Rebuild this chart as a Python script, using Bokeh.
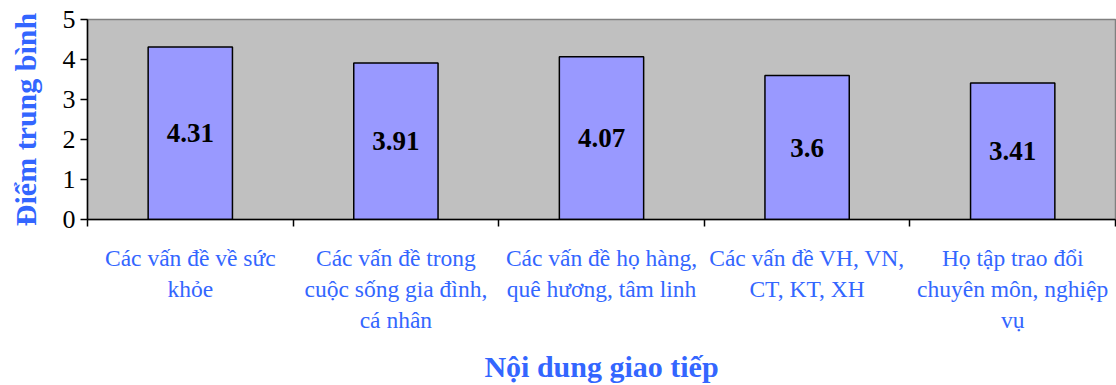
from bokeh.plotting import figure
from bokeh.models import LinearAxis, FixedTicker, Range1d, ColumnDataSource, LabelSet
from bokeh.embed import file_html
from bokeh.resources import INLINE

# Topics of communication and their mean scores
categories = [
    "Các vấn đề về sức\nkhỏe",
    "Các vấn đề trong\ncuộc sống gia đình,\ncá nhân",
    "Các vấn đề họ hàng,\nquê hương, tâm linh",
    "Các vấn đề VH, VN,\nCT, KT, XH",
    "Họ tập trao đổi\nchuyên môn, nghiệp\nvụ",
]
scores = [4.31, 3.91, 4.07, 3.6, 3.41]
score_labels = ["4.31", "3.91", "4.07", "3.6", "3.41"]
y_ticks = [0, 1, 2, 3, 4, 5]

SERIF = "Liberation Serif"
BLUE = "#3366FF"

n = len(categories)
centers = [i + 0.5 for i in range(n)]

src = ColumnDataSource(dict(
    x=centers,
    top=scores,
    mid=[s / 2 for s in scores],
    lab=score_labels,
))

p = figure(
    width=1116, height=385,
    output_backend="svg", toolbar_location=None,
    x_range=Range1d(0, n), y_range=Range1d(0, 5),
    x_axis_location=None, y_axis_location=None,
    min_border_left=87, min_border_right=1, min_border_top=19, min_border_bottom=166,
)
p.background_fill_color = "#C0C0C0"
p.border_fill_color = "white"
p.outline_line_color = "#808080"
p.outline_line_width = 1.5
p.xgrid.visible = False
p.ygrid.visible = False

p.vbar(x="x", top="top", bottom=0, width=0.41, source=src,
       fill_color="#9999FF", line_color="black", line_width=1.5)

p.add_layout(LabelSet(x="x", y="mid", text="lab", source=src,
                      text_align="center", text_baseline="middle",
                      text_font=SERIF, text_font_style="bold",
                      text_font_size="27px", text_color="black"))

# Y axis
yax = LinearAxis(ticker=FixedTicker(ticks=y_ticks))
yax.axis_label = "Điểm trung bình"
yax.axis_label_text_font = SERIF
yax.axis_label_text_font_style = "bold"
yax.axis_label_text_font_size = "30px"
yax.axis_label_text_color = BLUE
yax.axis_label_standoff = 18
yax.major_label_text_font = SERIF
yax.major_label_text_font_size = "26px"
yax.major_label_text_color = "black"
yax.major_label_standoff = 5
yax.major_tick_out = 7
yax.major_tick_in = 0
yax.minor_tick_out = 0
yax.minor_tick_in = 0
yax.axis_line_color = "black"
yax.axis_line_width = 1.5
yax.major_tick_line_width = 1.5
p.add_layout(yax, "left")

# Bottom axis: tick marks at category boundaries
xax = LinearAxis(ticker=FixedTicker(ticks=list(range(n + 1))))
xax.major_label_overrides = {i: "" for i in range(n + 1)}
xax.major_label_text_font_size = "1px"
xax.major_label_standoff = 0
xax.major_tick_out = 7
xax.major_tick_in = 0
xax.minor_tick_out = 0
xax.minor_tick_in = 0
xax.axis_line_color = "black"
xax.axis_line_width = 1.5
xax.major_tick_line_width = 1.5
p.add_layout(xax, "below")

# Bottom axis: category names under each bar
cax = LinearAxis(ticker=FixedTicker(ticks=centers))
cax.major_label_overrides = {c: lab for c, lab in zip(centers, categories)}
cax.major_label_text_font = SERIF
cax.major_label_text_font_size = "23.5px"
cax.major_label_text_color = BLUE
cax.major_label_text_line_height = 1.2
cax.major_label_standoff = 18
cax.major_label_orientation = "horizontal"
cax.major_tick_out = 0
cax.major_tick_in = 0
cax.minor_tick_out = 0
cax.minor_tick_in = 0
cax.axis_line_color = None
cax.axis_label = "Nội dung giao tiếp"
cax.axis_label_text_font = SERIF
cax.axis_label_text_font_style = "bold"
cax.axis_label_text_font_size = "30px"
cax.axis_label_text_color = BLUE
cax.axis_label_standoff = 14
p.add_layout(cax, "below")

open("out.html", "w").write(file_html(p, INLINE))
